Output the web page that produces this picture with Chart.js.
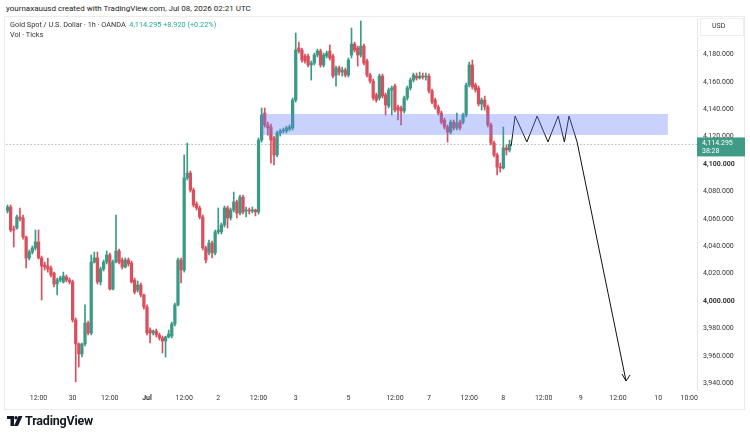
<!DOCTYPE html>
<html><head><meta charset="utf-8">
<script src="https://cdn.jsdelivr.net/npm/chart.js@4.4.1/dist/chart.umd.min.js"></script>
<style>
html,body{margin:0;padding:0;background:#fff;}
#wrap{position:relative;width:750px;height:433px;overflow:hidden;font-family:Roboto,"Liberation Sans",Arial,sans-serif;}
canvas{position:absolute;left:0;top:0;}
.t{position:absolute;white-space:nowrap;}
</style></head><body>
<div id="wrap">
<div class="t" style="left:6px;top:4px;font-size:8px;color:#222">yournaxauusd created with TradingView.com, Jul 08, 2026 02:21 UTC</div>
<div style="position:absolute;left:4px;top:16px;width:741px;height:394px;border:1px solid #ebebeb;box-sizing:border-box"></div>
<canvas id="c" width="750" height="433"></canvas>
<div class="t" style="left:10px;top:20px;font-size:7.3px;color:#333">Gold Spot / U.S. Dollar · 1h · OANDA&nbsp; <span style="color:#22ab94">4,114.295 +8.920 (+0.22%)</span></div>
<div class="t" style="left:10px;top:30px;font-size:7.3px;color:#333">Vol · Ticks</div>
<div style="position:absolute;left:700px;top:18px;width:44px;height:18px;border:1px solid #eee;box-sizing:border-box"></div>
<div class="t" style="left:712px;top:22px;font-size:7px;color:#333">USD</div>
<svg style="position:absolute;left:7px;top:416px" width="16" height="11" viewBox="0 0 16 11"><path d="M0 0h7v10H3.5V3H0z" fill="#131722"/><circle cx="9" cy="1.8" r="1.7" fill="#131722"/><path d="M11.5 0H15.5L11 10H7z" fill="#131722"/></svg>
<div class="t" style="left:25px;top:413px;font-size:12.5px;font-weight:bold;color:#131722;letter-spacing:-0.2px">TradingView</div>
</div>
<script>
const openP = [4065.7,4068.6,4052.5,4053.3,4061.3,4060.6,4046.7,4031.4,4035.7,4038.7,4043.1,4031.4,4026.3,4025.5,4024.1,4020.4,4012.4,4015.3,4013.9,4017.5,4015.3,4013.9,3986.1,3968.6,3961.3,3968.6,3983.9,3976.6,4028.4,4031.4,4013.9,4023.3,4028.4,4033.6,4008.7,4028.4,4036.5,4029.9,4024.8,4029.9,4027.7,4015.3,4008.0,4011.7,4004.4,3995.6,3978.8,3976.6,3978.1,3975.2,3973.0,3970.8,3973.7,3974.4,3983.2,3997.1,4029.9,4022.6,4089.8,4093.4,4081.0,4070.8,4067.9,4061.3,4038.7,4035.7,4042.3,4035.0,4050.4,4050.4,4055.5,4067.9,4060.6,4066.4,4072.3,4064.2,4075.9,4065.7,4066.4,4065.7,4066.4,4065.0,4117.5,4137.2,4128.5,4127.0,4119.0,4106.6,4122.6,4124.1,4124.1,4125.5,4126.3,4146.7,4184.7,4183.2,4178.8,4178.8,4172.3,4173.7,4179.6,4182.5,4172.3,4178.8,4182.5,4178.8,4164.9,4170.1,4167.1,4168.6,4164.9,4179.6,4187.6,4184.7,4179.6,4186.1,4175.2,4164.9,4160.6,4150.4,4148.2,4164.2,4150.4,4142.3,4154.0,4156.9,4141.6,4140.9,4138.7,4148.2,4155.5,4161.3,4164.2,4162.8,4164.2,4163.5,4164.2,4153.3,4146.7,4141.6,4137.2,4132.1,4127.0,4123.3,4130.6,4126.3,4130.6,4130.6,4135.8,4157.7,4172.3,4157.7,4155.5,4143.8,4146.7,4141.6,4128.5,4115.3,4106.6,4097.8,4097.1,4111.7,4110.2];
const highP = [4070.1,4070.1,4054.7,4062.8,4067.9,4062.8,4047.4,4037.2,4040.1,4051.8,4051.8,4032.8,4028.4,4031.4,4025.5,4021.1,4016.8,4018.2,4021.1,4019.0,4016.8,4015.3,3987.6,3969.3,3969.3,3997.1,3985.4,4033.6,4035.7,4035.7,4024.8,4029.9,4036.5,4035.0,4029.9,4062.8,4037.9,4031.4,4031.4,4031.4,4029.2,4016.8,4014.6,4013.1,4005.1,3997.1,3980.3,3978.8,3979.5,3976.6,3974.4,3974.4,3978.8,3984.6,3998.5,4031.4,4031.4,4106.6,4115.3,4094.9,4082.5,4072.3,4069.3,4062.8,4040.1,4044.5,4043.8,4051.8,4067.9,4056.9,4069.3,4069.3,4067.9,4079.5,4073.7,4077.4,4077.4,4068.6,4067.9,4068.6,4067.1,4119.0,4140.9,4140.9,4130.6,4129.2,4120.4,4124.1,4125.5,4126.3,4127.7,4128.5,4148.2,4195.6,4189.0,4184.7,4180.3,4180.3,4175.2,4181.0,4183.9,4183.9,4181.0,4182.5,4186.9,4180.3,4171.5,4171.5,4170.8,4170.1,4177.4,4199.3,4189.0,4186.1,4204.4,4187.6,4176.6,4166.4,4162.0,4151.8,4165.7,4165.7,4151.8,4155.5,4156.9,4158.4,4143.1,4142.3,4149.6,4156.9,4162.8,4166.4,4166.4,4167.1,4166.4,4166.4,4165.7,4154.7,4148.2,4143.1,4138.7,4133.6,4128.5,4132.1,4132.1,4137.2,4132.1,4137.2,4159.1,4174.4,4175.9,4159.1,4156.9,4148.2,4149.6,4143.1,4129.9,4116.8,4108.0,4100.7,4127.0,4113.9,4117.5];
const lowP = [4064.2,4050.4,4039.4,4052.5,4058.4,4045.2,4024.1,4029.9,4034.3,4037.2,4030.6,4000.7,4022.6,4021.1,4017.5,4010.2,4004.4,4013.9,4013.1,4013.9,4012.4,3984.6,3940.9,3951.8,3959.1,3967.1,3975.2,3975.2,4027.7,4012.4,4011.7,4021.9,4027.0,4008.0,4008.0,4027.7,4027.0,4023.3,4024.1,4025.5,4013.1,4005.1,4006.5,4002.9,3994.1,3975.2,3969.3,3975.2,3973.7,3971.5,3962.0,3959.1,3973.0,3973.0,3981.7,3996.3,4013.1,4021.1,4088.3,4079.5,4068.6,4066.4,4059.8,4037.2,4027.7,4033.6,4031.4,4033.6,4048.9,4048.9,4054.0,4053.3,4059.1,4065.0,4060.6,4062.8,4063.5,4061.3,4063.5,4064.2,4062.1,4063.5,4116.0,4127.0,4121.1,4100.7,4099.3,4105.1,4120.4,4122.6,4122.6,4124.1,4124.8,4145.2,4181.0,4174.4,4173.7,4170.8,4161.3,4172.3,4178.1,4170.8,4170.8,4177.4,4175.9,4162.8,4156.9,4164.9,4164.2,4163.5,4163.5,4177.4,4181.7,4171.5,4178.1,4172.3,4163.5,4159.1,4146.7,4145.2,4146.7,4148.2,4135.8,4140.9,4135.8,4137.9,4132.1,4128.5,4137.2,4146.7,4154.0,4159.9,4161.3,4162.0,4162.0,4161.3,4151.8,4143.8,4140.1,4135.8,4129.2,4125.5,4116.0,4121.9,4124.8,4124.8,4124.8,4129.2,4134.3,4156.2,4154.7,4152.5,4142.3,4139.4,4139.4,4127.0,4113.9,4105.1,4092.0,4094.1,4096.3,4106.6,4108.8];
const closeP = [4068.6,4051.8,4051.8,4061.3,4059.8,4046.7,4031.4,4035.7,4038.7,4043.1,4031.4,4025.5,4024.8,4023.3,4019.0,4012.4,4015.3,4016.8,4018.2,4015.3,4013.9,3986.1,3968.6,3961.3,3968.6,3983.9,3976.6,4028.4,4031.4,4013.9,4023.3,4028.4,4033.6,4008.7,4028.4,4036.5,4028.4,4024.8,4029.9,4027.0,4013.9,4006.5,4011.7,4004.4,3995.6,3976.6,3976.6,3978.1,3975.2,3973.0,3970.8,3973.7,3975.9,3983.2,3997.1,4029.9,4022.6,4089.8,4093.4,4081.0,4070.1,4067.9,4061.3,4038.7,4029.9,4042.3,4035.0,4050.4,4051.8,4055.5,4067.9,4060.6,4066.4,4072.3,4064.2,4075.9,4065.0,4066.4,4065.7,4066.4,4065.0,4117.5,4135.8,4128.5,4126.3,4117.5,4106.6,4122.6,4124.1,4124.8,4126.3,4127.0,4146.7,4183.2,4182.5,4175.9,4175.2,4172.3,4173.7,4179.6,4182.5,4172.3,4179.6,4181.0,4177.4,4164.2,4170.1,4167.1,4168.6,4164.9,4175.9,4187.6,4183.2,4179.6,4186.1,4173.7,4164.9,4160.6,4148.2,4146.7,4164.2,4149.6,4143.1,4154.0,4155.5,4139.4,4139.4,4138.7,4148.2,4155.5,4161.3,4164.9,4162.8,4164.2,4163.5,4164.2,4153.3,4145.2,4141.6,4137.2,4130.6,4127.0,4123.3,4130.6,4126.3,4129.9,4126.3,4135.8,4157.7,4172.3,4156.2,4154.0,4143.8,4146.7,4141.6,4128.5,4115.3,4106.6,4097.8,4097.1,4111.7,4110.2,4114.295];

const xTickIndex = [10,21,33,45,57,68,81,93,110,125,136,149,160,173,185,197,210,220];
const xTickText = ['12:00','30','12:00','Jul','12:00','2','12:00','3','5','12:00','7','12:00','8','12:00','9','12:00','10','10:00'];
const yTickValues = [3940,3960,3980,4000,4020,4040,4060,4080,4100,4120,4140,4160,4180];
const boldY = [4000,4100];

const zoneFrom = 81.8, zoneTo = 213.1, zoneLow = 4121.2, zoneHigh = 4136.5;
const pathX = [162.5,163.8,167.6,170.9,174.4,177.7,179.7,181.2,183.8,199.6];
const pathY = [4113.1,4135.0,4116.1,4135.0,4116.1,4135.0,4116.1,4135.0,4116.1,3941.6];
const arrowX = [198.3,199.6,200.9];
const arrowY = [3946.7,3941.6,3946.0];
const lastPrice = 4114.295;
const countdown = '38:28';
const slotCount = 223;

const UP = '#3a9a86', DOWN = '#da4f5d';
const colorOf = i => closeP[i] >= openP[i] ? UP : DOWN;

const wickData = closeP.map((c, i) => ({x: i, y: [lowP[i], highP[i]]}));
const bodyData = closeP.map((c, i) => ({x: i, y: [openP[i], closeP[i]]}));
const pathData = pathX.map((x, i) => ({x, y: pathY[i]}));
const arrowData = arrowX.map((x, i) => ({x, y: arrowY[i]}));
const priceLineData = [{x: -0.5, y: lastPrice}, {x: slotCount - 0.5, y: lastPrice}];

const fontFam = 'Roboto, "Liberation Sans", Arial, sans-serif';

const zonePlugin = {
  id: 'zone',
  afterDatasetsDraw(chart) {
    const {ctx, scales: {x, y}} = chart;
    const l = x.getPixelForValue(zoneFrom), r = x.getPixelForValue(zoneTo);
    const t = y.getPixelForValue(zoneHigh), b = y.getPixelForValue(zoneLow);
    ctx.save();
    ctx.fillStyle = 'rgba(100,125,245,0.35)';
    ctx.fillRect(l, t, r - l, b - t);
    ctx.restore();
  },
  afterDraw(chart) {
    const {ctx, scales: {y}, chartArea} = chart;
    const py = y.getPixelForValue(lastPrice);
    ctx.save();
    ctx.fillStyle = '#3f9a86';
    ctx.fillRect(chartArea.right, py - 7, 48, 19);
    ctx.fillStyle = '#fff';
    ctx.font = '7px ' + fontFam;
    ctx.textBaseline = 'middle';
    ctx.fillText(lastPrice.toLocaleString('en-US', {minimumFractionDigits: 3}), chartArea.right + 5, py - 1.5);
    ctx.fillText(countdown, chartArea.right + 5, py + 6.5);
    ctx.restore();
  }
};

new Chart(document.getElementById('c'), {
  type: 'bar',
  data: {
    datasets: [
      {type: 'line', data: priceLineData, borderColor: '#a9bdb8', borderWidth: 1, borderDash: [1.5, 2], pointRadius: 0, order: 5},
      {type: 'bar', data: wickData, backgroundColor: ctx => colorOf(ctx.dataIndex), barThickness: 1, grouped: false, borderWidth: 0, order: 4},
      {type: 'bar', data: bodyData, backgroundColor: ctx => colorOf(ctx.dataIndex), barThickness: 2.6, grouped: false, borderWidth: 0, minBarLength: 1, order: 3},
      {type: 'line', data: pathData, borderColor: '#111', borderWidth: 1, pointRadius: 0, tension: 0, order: 1},
      {type: 'line', data: arrowData, borderColor: '#111', borderWidth: 1, pointRadius: 0, tension: 0, order: 1}
    ]
  },
  options: {
    responsive: false,
    animation: false,
    devicePixelRatio: 1,
    layout: {padding: {left: 6, top: 18, right: 0, bottom: 23}},
    plugins: {legend: {display: false}, tooltip: {enabled: false}},
    scales: {
      x: {
        type: 'linear', min: -0.5, max: slotCount - 0.5, offset: false,
        grid: {display: false, drawTicks: false},
        border: {display: false},
        afterBuildTicks: s => { s.ticks = xTickIndex.map(v => ({value: v})); },
        afterFit: s => { s.height = 20; },
        ticks: {
          autoSkip: false, maxRotation: 0, padding: 4, color: '#333',
          font: c => ({family: fontFam, size: 7, weight: (c.tick && c.tick.value === 45) ? 'bold' : 'normal'}),
          callback: v => { const k = xTickIndex.indexOf(v); return k >= 0 ? xTickText[k] : ''; }
        }
      },
      y: {
        type: 'linear', position: 'right', min: 3935.0, max: 4206.6,
        grid: {display: false, drawTicks: false},
        border: {display: true, color: '#e6e6e6'},
        afterBuildTicks: s => { s.ticks = yTickValues.map(v => ({value: v})); },
        afterFit: s => { s.width = 53; },
        ticks: {
          padding: 6, color: '#333',
          font: c => ({family: fontFam, size: 7, weight: (c.tick && boldY.includes(c.tick.value)) ? 'bold' : 'normal'}),
          callback: v => v.toLocaleString('en-US', {minimumFractionDigits: 3})
        }
      }
    }
  },
  plugins: [zonePlugin]
});
</script>
</body></html>
